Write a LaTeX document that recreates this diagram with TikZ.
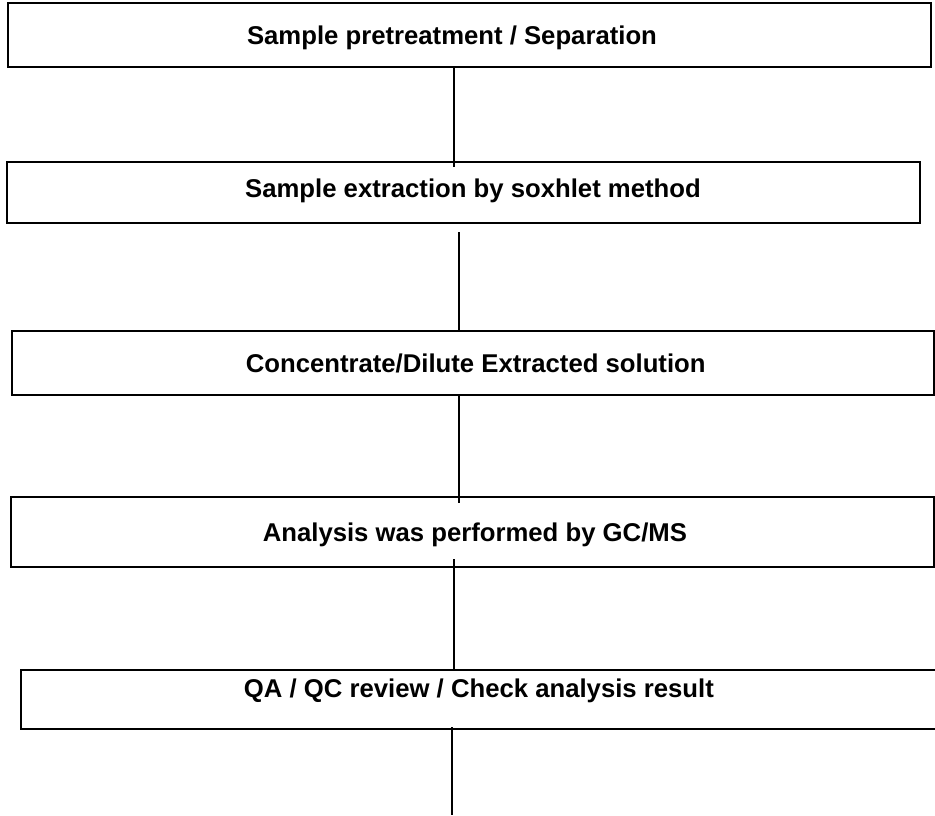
\documentclass[tikz,border=0pt]{standalone}
\usepackage{fontspec}
\setmainfont{Liberation Sans}

\begin{document}
\begin{tikzpicture}[x=1pt, y=-1pt,
        stage/.style={rectangle, draw=black, line width=2pt, fill=white, inner sep=0pt, outer sep=0pt,
            font=\fontsize{25.7}{30}\selectfont\bfseries, text height=18.4pt, text depth=0pt},
        link/.style={draw=black, line width=1.5pt}]

        \useasboundingbox (0,0) rectangle (935,815);

        \node[stage, minimum width=923.5pt, minimum height=63.5pt] (s1) at (469.3,34.8) {Sample pretreatment / Separation\hspace*{34.6pt}};
        \node[stage, minimum width=912.7pt, minimum height=61pt, text depth=8pt] (s2) at (463.7,192.5) {\hspace*{18.6pt}Sample extraction by soxhlet method};
        \node[stage, minimum width=922.3pt, minimum height=64.3pt] (s3) at (473.2,362.9) {\hspace*{5pt}Concentrate/Dilute Extracted solution};
        \node[stage, minimum width=923.3pt, minimum height=70pt] (s4) at (472.4,532) {\hspace*{5pt}Analysis was performed by GC/MS};
        \node[stage, minimum width=916.3pt, minimum height=59pt, text depth=22pt] (s5) at (478.9,699.5) {QA / QC review / Check analysis result};

        \coordinate (tail) at (452,815);

        \draw[link] ([xshift=-15.3pt]s1.south) -- ([xshift=-9.7pt, yshift=-5pt]s2.north);
        \draw[link] ([xshift=-4.7pt, yshift=-9pt]s2.south) -- ([xshift=-14.2pt]s3.north);
        \draw[link] ([xshift=-14.2pt]s3.south) -- ([xshift=-13.4pt, yshift=-6pt]s4.north);
        \draw[link] ([xshift=-18.4pt, yshift=8pt]s4.south) -- ([xshift=-24.9pt]s5.north);
        \draw[link] ([xshift=-26.9pt, yshift=2pt]s5.south) -- (tail);

\end{tikzpicture}
\end{document}
